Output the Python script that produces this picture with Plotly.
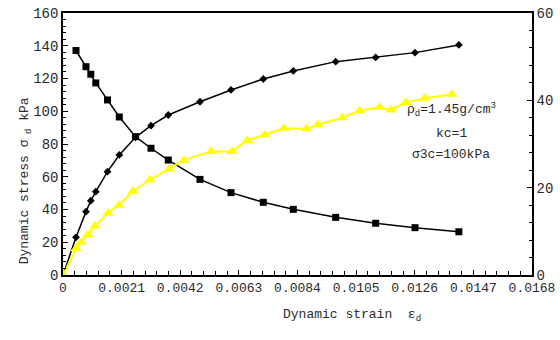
import plotly.graph_objects as go

# Dynamic strain (shared by stress and modulus curves)
strain_main = [0.000466, 0.000824, 0.000996, 0.001175, 0.001594, 0.002017, 0.002597,
               0.003152, 0.003772, 0.004907, 0.006018, 0.007175, 0.00825, 0.009768,
               0.0112, 0.01261, 0.01418]
# Dynamic stress (kPa), black diamonds, starting from origin
stress_strain = [0.0] + strain_main
stress_vals = [0.0, 23.0, 38.7, 45.4, 50.9, 63.1, 73.3, 84.1, 91.2, 97.7, 105.8, 113.0,
               119.7, 124.6, 130.3, 132.9, 135.8, 140.5]
# Dynamic modulus (left-axis scale), black squares
modulus_vals = [137.1, 127.2, 122.6, 117.3, 106.9, 96.5, 84.5, 77.4, 70.2, 58.4, 50.3,
                44.4, 40.1, 35.2, 31.6, 28.9, 26.4]
# Damping ratio (right axis), yellow triangles
damp_strain = [0.0, 0.000466, 0.000645, 0.000896, 0.001146, 0.001612, 0.002006, 0.002507,
               0.003117, 0.003815, 0.004334, 0.005302, 0.006054, 0.006609, 0.007236,
               0.007917, 0.008723, 0.009134, 0.009994, 0.01062, 0.01134, 0.01175,
               0.01229, 0.01295, 0.01392]
damp_vals = [0.0, 6.0, 7.5, 9.2, 11.2, 14.2, 16.0, 19.2, 21.8, 24.3, 26.3, 28.3, 28.3,
             30.8, 32.1, 33.6, 33.5, 34.4, 36.0, 37.6, 38.4, 37.8, 39.5, 40.5, 41.4]

x_ticks = [0, 0.0021, 0.0042, 0.0063, 0.0084, 0.0105, 0.0126, 0.0147, 0.0168]
x_tick_labels = ["0", "0.0021", "0.0042", "0.0063", "0.0084", "0.0105", "0.0126", "0.0147", "0.0168"]

FONT = "Liberation Mono"
TXT = "#2a2a2a"

fig = go.Figure()
fig.add_trace(go.Scatter(x=stress_strain, y=stress_vals, mode="lines+markers",
                         line=dict(color="black", width=1.5),
                         marker=dict(symbol="diamond", size=6, color="black"),
                         showlegend=False))
fig.add_trace(go.Scatter(x=strain_main, y=modulus_vals, mode="lines+markers",
                         line=dict(color="black", width=1.5),
                         marker=dict(symbol="square", size=7, color="black"),
                         showlegend=False))
fig.add_trace(go.Scatter(x=damp_strain, y=damp_vals, mode="lines+markers", yaxis="y2",
                         line=dict(color="#FFFF00", width=2),
                         marker=dict(symbol="triangle-up", size=10, color="#FFFF00"),
                         showlegend=False))

fig.update_layout(
    width=560, height=340,
    margin=dict(l=63, r=28, t=13, b=65, autoexpand=False),
    paper_bgcolor="white", plot_bgcolor="white",
    font=dict(family=FONT, size=13, color=TXT),
    xaxis=dict(range=[0, 0.0168], tickvals=x_ticks, ticktext=x_tick_labels, automargin=False,
               showgrid=False, zeroline=False, showline=True, linecolor="black",
               linewidth=1.5, mirror=True, ticks="inside", ticklen=5, tickcolor="black",
               minor=dict(dtick=0.00042, tick0=0, ticks="inside", ticklen=4, tickcolor="black"),
               tickfont=dict(family=FONT, size=13, color=TXT)),
    yaxis=dict(range=[0, 160], tickvals=[0, 20, 40, 60, 80, 100, 120, 140, 160], automargin=False,
               showgrid=False, zeroline=False, showline=True, linecolor="black",
               linewidth=1.5, ticks="inside", ticklen=5, tickcolor="black",
               minor=dict(dtick=4, tick0=0, ticks="inside", ticklen=3, tickcolor="black"),
               tickfont=dict(family=FONT, size=14, color=TXT)),
    yaxis2=dict(range=[0, 60], tickvals=[0, 20, 40, 60], overlaying="y", side="right",
                automargin=False,
                showgrid=False, zeroline=False, showline=True, linecolor="black",
                linewidth=1.5, ticks="inside", ticklen=5, tickcolor="black",
                minor=dict(dtick=4, tick0=0, ticks="inside", ticklen=3, tickcolor="black"),
                tickfont=dict(family=FONT, size=14, color=TXT)),
    annotations=[
        dict(text="Dynamic strain  ε<sub>d</sub>", xref="paper", yref="paper",
             x=0.616, y=-0.195, showarrow=False, font=dict(family=FONT, size=13, color=TXT)),
        dict(text="Dynamic stress σ<sub> d</sub> kPa", xref="paper", yref="paper",
             x=-0.102, y=0.36, textangle=-90, showarrow=False,
             font=dict(family=FONT, size=13, color=TXT)),
        dict(text="ρ<sub>d</sub>=1.45g/cm<sup>3</sup>", x=0.01390, y=100.8, showarrow=False,
             font=dict(family=FONT, size=13, color=TXT)),
        dict(text="kc=1", x=0.01390, y=86.7, showarrow=False,
             font=dict(family=FONT, size=13, color=TXT)),
        dict(text="σ3c=100kPa", x=0.01390, y=73.3, showarrow=False,
             font=dict(family=FONT, size=13, color=TXT)),
    ],
)

fig.write_html("out.html", config={"displayModeBar": False},
               post_script="document.body.style.margin='0px';")
